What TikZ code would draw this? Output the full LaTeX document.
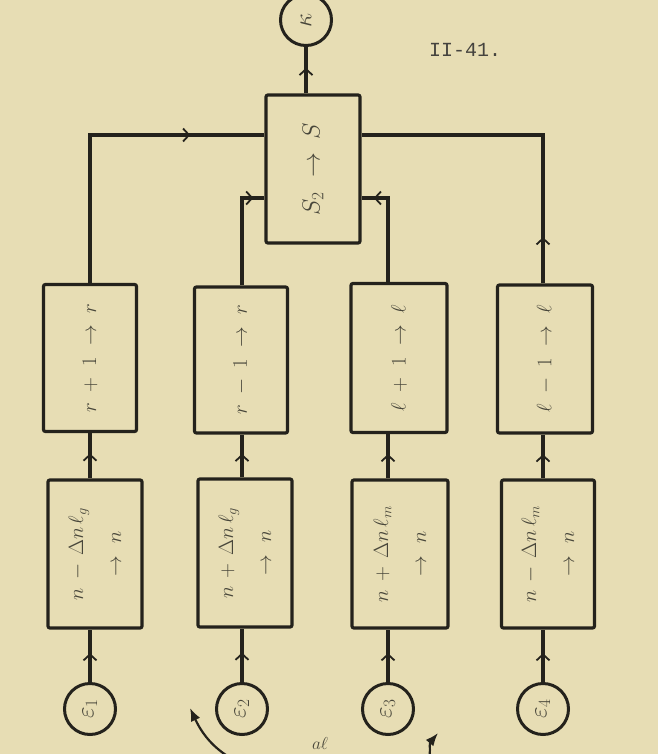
\documentclass[tikz,border=0pt]{standalone}
\usepackage{fontspec}
\usetikzlibrary{arrows.meta,decorations.markings,calc}
\newfontfamily\typefont{Liberation Mono}

\definecolor{paper}{RGB}{231,221,180}
\definecolor{ink}{RGB}{36,34,28}
\definecolor{pencil}{RGB}{72,70,58}

\begin{document}
\begin{tikzpicture}[x=1pt,y=-1pt,
  wire/.style={draw=ink,line width=3.1pt},
  blk/.style={draw=ink,line width=3.2pt,rounded corners=2pt,inner sep=0pt,
    minimum width=94pt,minimum height=148pt},
  src/.style={draw=ink,line width=3pt,circle,minimum size=51pt,inner sep=0pt},
  lbl/.style={text=pencil,rotate=90,align=center,inner sep=0pt,
    font=\fontsize{22}{38}\selectfont},
  biglbl/.style={lbl,font=\fontsize{27}{30}\selectfont},
  flow/.style={postaction={decorate},decoration={markings,
    mark=at position #1 with {\arrow{Straight Barb[length=6pt,width=13pt,line width=1.8pt]}}}},
  curved/.style={draw=ink,line width=2.2pt,-{Latex[length=13pt,width=10pt]}}
]
% sheet
\fill[paper] (0,0) rectangle (658,754);
\useasboundingbox (0,0) rectangle (658,754);

% page number
\node[text=ink!85,font=\typefont\fontsize{20}{24}\selectfont] (page) at (465,50) {II-41.};

% output and combiner
\node[src] (k) at (306,20) {};
\node[biglbl] (klbl) at (k) {$\kappa$};
\node[blk] (S) at (313,169) {};
\node[biglbl] (Slbl) at (S) {$S_2 \;\to\; S$};

% sources
\node[src] (w1) at (90,709) {};
\node[src] (w2) at (242,709) {};
\node[src] (w3) at (388,709) {};
\node[src] (w4) at (543,709) {};
\node[biglbl] at (w1) {$\varepsilon_1$};
\node[biglbl] at (w2) {$\varepsilon_2$};
\node[biglbl] at (w3) {$\varepsilon_3$};
\node[biglbl] at (w4) {$\varepsilon_4$};

% lower blocks
\node[blk] (d1) at (95,554) {};
\node[blk] (d2) at (245,553) {};
\node[blk,minimum width=96pt] (d3) at (400,554) {};
\node[blk,minimum width=93pt] (d4) at (548,554) {};
\node[lbl] at (d1) {$n \,-\, \Delta n\,\ell_g$\\$\to\; n$};
\node[lbl] at (d2) {$n \,+\, \Delta n\,\ell_g$\\$\to\; n$};
\node[lbl] at (d3) {$n \,+\, \Delta n\,\ell_m$\\$\to\; n$};
\node[lbl] at (d4) {$n \,-\, \Delta n\,\ell_m$\\$\to\; n$};

% upper blocks
\node[blk,minimum width=93pt,minimum height=147pt] (u1) at (90,358) {};
\node[blk,minimum width=93pt,minimum height=146pt] (u2) at (241,360) {};
\node[blk,minimum width=96pt,minimum height=149pt] (u3) at (399,358) {};
\node[blk,minimum width=95pt] (u4) at (545,359) {};
\node[lbl] at (u1) {$r \;+\; 1 \;\to\; r$};
\node[lbl] at (u2) {$r \;-\; 1 \;\to\; r$};
\node[lbl] at (u3) {$\ell \;+\; 1 \;\to\; \ell$};
\node[lbl] at (u4) {$\ell \;-\; 1 \;\to\; \ell$};

% rows of the feeders into the combiner
\coordinate (hiRow) at (0,135);
\coordinate (loRow) at (0,198);

% sources into lower blocks, lower into upper blocks
\foreach \i in {1,2,3,4}{
  \draw[wire,flow=0.55] (w\i.north) -- (w\i.north |- d\i.south);
  \draw[wire,flow=0.55] (w\i.center |- d\i.north) -- (w\i.center |- u\i.south);
}

% upper blocks into the combiner
\draw[wire,flow=0.77] (w1.center |- u1.north) |- (S.west |- hiRow);
\draw[wire,flow=0.9]  (w2.center |- u2.north) |- (S.west |- loRow);
\draw[wire,flow=0.89] (w3.center |- u3.north) |- (S.east |- loRow);
\draw[wire,flow=0.14] (w4.center |- u4.north) |- (S.east |- hiRow);

% combiner into output
\draw[wire,flow=0.55] (k.south |- S.north) -- (k.south);

% exchange between the two middle sources
\coordinate (swapL) at (252,768);
\coordinate (swapR) at (420,768);
\coordinate (tipL) at (190,708);
\coordinate (tipR) at (438,733);
\draw[curved] (swapL) to[out=160,in=-65] (tipL);
\draw[curved] (swapR) to[out=20,in=-130] (tipR);
\node[text=pencil,font=\fontsize{16}{20}\selectfont] (swaplbl) at (320,743) {$a\ell$};
\end{tikzpicture}
\end{document}
